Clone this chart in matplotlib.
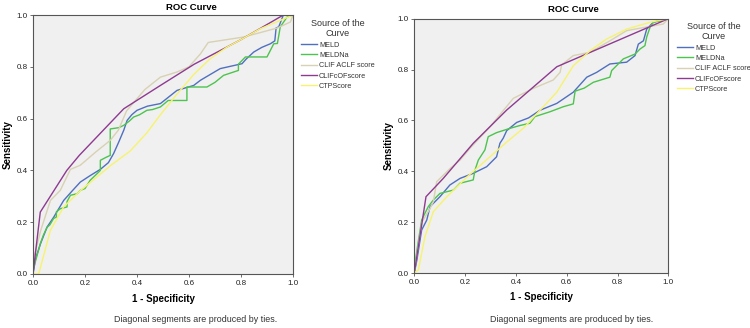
import matplotlib
matplotlib.use("Agg")
import matplotlib.pyplot as plt

plt.rcParams['font.family'] = ['Liberation Sans', 'DejaVu Sans']

series_names = ["MELD", "MELDNa", "CLIF ACLF score", "CLIFcOFscore", "CTPScore"]
series_colors = ["#4f6fbf", "#4cc44e", "#d8d1b2", "#8e3a91", "#f7f36e"]

# ---- Left panel ----
meld_l_fpr = [0, 0.01, 0.03, 0.054, 0.08, 0.118, 0.15, 0.182, 0.22, 0.259, 0.29, 0.31, 0.33, 0.349, 0.362, 0.38, 0.4, 0.44, 0.49, 0.554, 0.618, 0.644, 0.72, 0.804, 0.82, 0.849, 0.88, 0.913, 0.93, 0.935, 0.945, 0.963, 1.0]
meld_l_tpr = [0, 0.06, 0.12, 0.181, 0.22, 0.284, 0.32, 0.355, 0.38, 0.404, 0.43, 0.465, 0.51, 0.555, 0.593, 0.615, 0.632, 0.648, 0.658, 0.709, 0.728, 0.748, 0.793, 0.812, 0.83, 0.857, 0.875, 0.889, 0.9, 0.95, 0.954, 1.0, 1.0]

meldna_l_fpr = [0, 0, 0.028, 0.04, 0.054, 0.065, 0.079, 0.09, 0.09, 0.105, 0.131, 0.131, 0.144, 0.17, 0.182, 0.2, 0.22, 0.246, 0.259, 0.259, 0.28, 0.297, 0.297, 0.33, 0.349, 0.37, 0.387, 0.41, 0.438, 0.46, 0.49, 0.52, 0.592, 0.592, 0.669, 0.70, 0.733, 0.79, 0.79, 0.817, 0.90, 0.926, 0.94, 0.951, 0.977, 1.0]
meldna_l_tpr = [0, 0.014, 0.117, 0.15, 0.18, 0.19, 0.214, 0.22, 0.24, 0.252, 0.259, 0.28, 0.304, 0.31, 0.323, 0.33, 0.362, 0.387, 0.40, 0.439, 0.45, 0.458, 0.56, 0.565, 0.574, 0.59, 0.606, 0.615, 0.632, 0.635, 0.645, 0.67, 0.67, 0.722, 0.722, 0.74, 0.767, 0.786, 0.81, 0.838, 0.838, 0.889, 0.89, 0.954, 0.992, 1.0]

clif_l_fpr = [0, 0, 0.03, 0.067, 0.105, 0.144, 0.182, 0.24, 0.297, 0.328, 0.36, 0.43, 0.49, 0.554, 0.60, 0.644, 0.674, 0.81, 0.874, 0.94, 0.99, 1.0]
clif_l_tpr = [0, 0.05, 0.169, 0.284, 0.323, 0.404, 0.42, 0.47, 0.516, 0.555, 0.63, 0.712, 0.76, 0.78, 0.80, 0.85, 0.894, 0.915, 0.932, 0.95, 0.973, 1.0]

clifc_l_fpr = [0, 0.028, 0.13, 0.178, 0.349, 0.49, 0.62, 0.80, 0.963, 1.0]
clifc_l_tpr = [0, 0.239, 0.40, 0.458, 0.638, 0.728, 0.81, 0.905, 1.0, 1.0]

ctp_l_fpr = [0, 0.022, 0.03, 0.067, 0.118, 0.18, 0.246, 0.30, 0.374, 0.438, 0.49, 0.55, 0.618, 0.68, 0.746, 0.80, 0.874, 0.977, 1.0]
ctp_l_tpr = [0, 0, 0.03, 0.169, 0.259, 0.32, 0.375, 0.42, 0.475, 0.545, 0.615, 0.69, 0.77, 0.83, 0.876, 0.905, 0.947, 0.99, 1.0]

# ---- Right panel ----
meld_r_fpr = [0, 0.01, 0.029, 0.049, 0.062, 0.101, 0.14, 0.18, 0.232, 0.285, 0.324, 0.337, 0.35, 0.364, 0.403, 0.45, 0.495, 0.561, 0.626, 0.679, 0.718, 0.77, 0.836, 0.869, 0.882, 0.902, 0.915, 0.941, 1.0]
meld_r_tpr = [0, 0.05, 0.169, 0.208, 0.261, 0.30, 0.346, 0.372, 0.392, 0.418, 0.457, 0.51, 0.53, 0.56, 0.592, 0.61, 0.64, 0.667, 0.711, 0.77, 0.789, 0.822, 0.829, 0.855, 0.90, 0.913, 0.959, 0.986, 1.0]

meldna_r_fpr = [0, 0.003, 0.015, 0.029, 0.042, 0.055, 0.075, 0.101, 0.154, 0.18, 0.232, 0.239, 0.252, 0.278, 0.291, 0.324, 0.377, 0.416, 0.455, 0.475, 0.534, 0.587, 0.626, 0.633, 0.669, 0.705, 0.77, 0.777, 0.823, 0.869, 0.889, 0.908, 0.915, 0.928, 0.941, 1.0]
meldna_r_tpr = [0, 0.04, 0.12, 0.208, 0.235, 0.261, 0.287, 0.313, 0.326, 0.353, 0.366, 0.405, 0.444, 0.484, 0.536, 0.552, 0.569, 0.58, 0.589, 0.615, 0.634, 0.654, 0.665, 0.715, 0.727, 0.75, 0.77, 0.796, 0.842, 0.861, 0.881, 0.894, 0.928, 0.966, 0.986, 1.0]

clif_r_fpr = [0, 0.01, 0.03, 0.06, 0.075, 0.088, 0.14, 0.18, 0.219, 0.298, 0.39, 0.469, 0.547, 0.574, 0.58, 0.626, 0.692, 0.77, 0.836, 0.98, 1.0]
clif_r_tpr = [0, 0.07, 0.20, 0.25, 0.28, 0.359, 0.41, 0.444, 0.49, 0.575, 0.687, 0.726, 0.759, 0.789, 0.818, 0.855, 0.868, 0.913, 0.953, 0.979, 1.0]

clifc_r_fpr = [0, 0.046, 0.114, 0.232, 0.364, 0.561, 1.0]
clifc_r_tpr = [0, 0.30, 0.372, 0.51, 0.641, 0.811, 1.0]

ctp_r_fpr = [0, 0.016, 0.042, 0.075, 0.128, 0.209, 0.364, 0.43, 0.495, 0.561, 0.626, 0.692, 0.757, 0.836, 0.928, 1.0]
ctp_r_tpr = [0, 0.012, 0.143, 0.241, 0.30, 0.379, 0.515, 0.57, 0.64, 0.711, 0.815, 0.874, 0.92, 0.959, 0.986, 1.0]

ticks = [0.0, 0.2, 0.4, 0.6, 0.8, 1.0]
tick_labels = ["0.0", "0.2", "0.4", "0.6", "0.8", "1.0"]

panels = [
    dict(rect=[33/750, 54/328, 260/750, 259/328],
         curves=[(meld_l_fpr, meld_l_tpr), (meldna_l_fpr, meldna_l_tpr), (clif_l_fpr, clif_l_tpr),
                 (clifc_l_fpr, clifc_l_tpr), (ctp_l_fpr, ctp_l_tpr)],
         title_xy=(191, 7), ylab_x=8, leg_xy=(301, 19), foot_x=196),
    dict(rect=[414.3/750, 55/328, 254/750, 254.3/328],
         curves=[(meld_r_fpr, meld_r_tpr), (meldna_r_fpr, meldna_r_tpr), (clif_r_fpr, clif_r_tpr),
                 (clifc_r_fpr, clifc_r_tpr), (ctp_r_fpr, ctp_r_tpr)],
         title_xy=(573, 10), ylab_x=389, leg_xy=(677, 22), foot_x=572),
]

W, H = 750, 328
fig = plt.figure(figsize=(7.5, 3.28), dpi=100)
fig.patch.set_facecolor("white")

for p in panels:
    ax = fig.add_axes(p["rect"])
    ax.set_facecolor("#f0f0f0")
    handles = []
    for (xs, ys), name, col in zip(p["curves"], series_names, series_colors):
        ln, = ax.plot(xs, ys, color=col, lw=1.0, label=name)
        handles.append(ln)
    ax.set_xlim(0, 1)
    ax.set_ylim(0, 1)
    ax.set_xticks(ticks)
    ax.set_xticklabels(tick_labels)
    ax.set_yticks(ticks)
    ax.set_yticklabels(tick_labels)
    ax.tick_params(labelsize=5.8, length=2.5, width=0.6, color="#555555", pad=1.5, labelcolor="#222222")
    for s in ax.spines.values():
        s.set_color("#555555")
        s.set_linewidth(0.8)
    ax.set_xlabel("1 - Specificity", fontsize=7, fontweight="bold", labelpad=5)
    yc = p["rect"][1] + p["rect"][3] / 2
    fig.text(p["ylab_x"]/W, yc, "Sensitivity", rotation=90, ha="center", va="center",
             fontsize=7, fontweight="bold")
    fig.text(p["title_xy"][0]/W, 1 - p["title_xy"][1]/H, "ROC Curve", ha="center", va="center",
             fontsize=6.8, fontweight="bold")
    fig.text(p["foot_x"]/W, 1 - 320/H, "Diagonal segments are produced by ties.", ha="center",
             va="center", fontsize=6.4, color="#333333")
    leg = fig.legend(handles=handles, labels=series_names, loc="upper left",
                     bbox_to_anchor=(p["leg_xy"][0]/W, 1 - p["leg_xy"][1]/H),
                     frameon=False, fontsize=5.2, title="Source of the\nCurve",
                     title_fontsize=6.5, handlelength=2.2, handletextpad=0.3,
                     labelspacing=0.45, borderpad=0.0, borderaxespad=0.0)
    leg.get_title().set_multialignment("center")
    leg.get_title().set_color("#333333")
    for t in leg.get_texts():
        t.set_color("#333333")

fig.savefig("out.png", dpi=100, facecolor="white")
